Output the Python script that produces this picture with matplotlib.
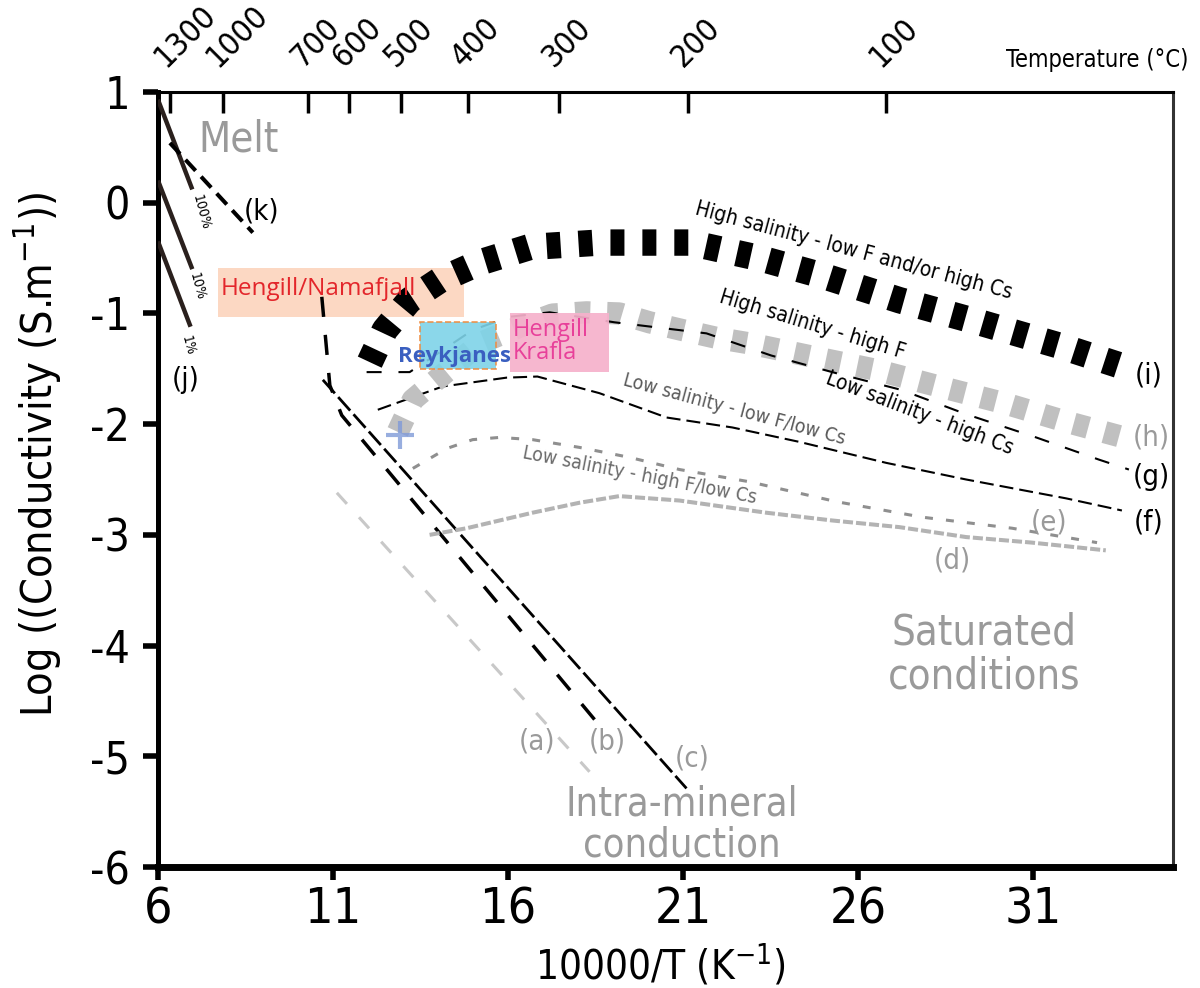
import matplotlib
matplotlib.use('Agg')
from matplotlib import pyplot as plt
from matplotlib.patches import Rectangle

plt.rcParams['font.family'] = ['DejaVu Sans']
plt.rcParams['font.stretch'] = 'condensed'
plt.rcParams['axes.unicode_minus'] = False

# x = 10000/T (K^-1), y = log conductivity (S/m)
melt_100_x = [6.0, 6.98]
melt_100_y = [0.93, 0.12]
melt_10_x = [6.0, 6.98]
melt_10_y = [0.20, -0.60]
melt_1_x = [6.0, 6.93]
melt_1_y = [-0.35, -1.12]
k_x = [6.34, 8.71]
k_y = [0.54, -0.27]

a_x = [11.11, 18.33]
a_y = [-2.62, -5.14]
b_x = [10.68, 10.91, 11.25, 18.53]
b_y = [-0.85, -1.65, -1.92, -4.69]
c_x = [10.71, 21.10]
c_y = [-1.60, -5.29]

d_x = [13.76, 14.82, 16.70, 18.04, 19.18, 20.90, 23.38, 25.26, 27.18, 29.09, 30.97, 33.08]
d_y = [-3.00, -2.94, -2.80, -2.71, -2.65, -2.69, -2.80, -2.87, -2.93, -3.02, -3.07, -3.14]
e_x = [13.28, 14.25, 14.99, 15.76, 16.70, 18.04, 19.47, 20.90, 22.89, 25.38, 27.83, 30.40, 32.83]
e_y = [-2.40, -2.22, -2.14, -2.12, -2.14, -2.21, -2.30, -2.41, -2.52, -2.70, -2.84, -2.94, -3.07]
f_x = [12.28, 14.13, 15.96, 16.84, 18.61, 20.53, 22.41, 24.32, 26.81, 29.09, 31.94, 33.54]
f_y = [-1.87, -1.66, -1.58, -1.57, -1.72, -1.94, -2.03, -2.16, -2.35, -2.50, -2.67, -2.78]
g_x = [11.96, 13.19, 14.05, 14.99, 16.05, 17.19, 19.04, 21.67, 23.52, 25.38, 27.23, 29.09, 31.09, 32.88, 33.74]
g_y = [-1.53, -1.53, -1.35, -1.15, -1.03, -0.99, -1.08, -1.18, -1.38, -1.54, -1.69, -1.91, -2.12, -2.32, -2.41]
h_x = [12.85, 13.28, 13.96, 14.53, 15.19, 16.33, 17.27, 18.24, 19.18, 20.04, 20.98, 21.95, 22.89, 24.69,
       26.52, 28.32, 30.17, 31.97, 33.60]
h_y = [-2.07, -1.78, -1.60, -1.45, -1.27, -1.12, -1.01, -0.99, -1.00, -1.08, -1.15, -1.22, -1.27, -1.39,
       -1.51, -1.66, -1.81, -1.98, -2.12]
i_x = [12.05, 12.48, 13.19, 14.05, 15.19, 16.62, 18.61, 21.18, 23.18, 24.89, 27.18, 29.46, 31.74, 33.68]
i_y = [-1.44, -1.15, -0.88, -0.70, -0.54, -0.40, -0.36, -0.36, -0.50, -0.65, -0.88, -1.08, -1.29, -1.49]

# field data ranges: x0, x1, y0, y1
hengill_namafjall = [7.71, 14.73, -1.03, -0.59]
reykjanes = [13.48, 15.67, -1.50, -1.08]
hengill_krafla = [16.05, 18.90, -1.53, -1.00]
reykjanes_point = [12.91, -2.10]

temps_c = [1300, 1000, 700, 600, 500, 400, 300, 200, 100]
x_ticks = [6, 11, 16, 21, 26, 31]
y_ticks = [1, 0, -1, -2, -3, -4, -5, -6]

GREY = '#9a9a9a'

fig = plt.figure(figsize=(12, 9.88), dpi=100)
ax = fig.add_axes([158 / 1200, 121 / 988, 1015 / 1200, 775 / 988])
ax.set_xlim(6, 35)
ax.set_ylim(-6, 1)

# boxes
x0, x1, y0, y1 = hengill_namafjall
ax.add_patch(Rectangle((x0, y0), x1 - x0, y1 - y0, fc='#fcd8c3', ec='none', zorder=1))

# melt
for mx, my in [(melt_100_x, melt_100_y), (melt_10_x, melt_10_y), (melt_1_x, melt_1_y)]:
    ax.plot(mx, my, color='#2a201d', lw=3.2, solid_capstyle='butt', zorder=3)
ax.plot(k_x, k_y, color='black', lw=2.9, dashes=(3.7, 2.0), zorder=3)

# intra-mineral
ax.plot(a_x, a_y, color='#c8c8c8', lw=2.2, dashes=(4.9, 5.9), zorder=3)
ax.plot(b_x, b_y, color='black', lw=2.5, dashes=(5.8, 5.2), zorder=3)
ax.plot(c_x, c_y, color='black', lw=2.0, dashes=(6.5, 1.8), zorder=3)

# saturated
ax.plot(d_x, d_y, color='#b3b3b3', lw=2.9, dashes=(2.5, 0.75), zorder=3)
ax.plot(e_x, e_y, color='#8f8f8f', lw=2.2, dashes=(2.6, 4.3), zorder=3)
ax.plot(f_x, f_y, color='black', lw=1.5, dashes=(6.7, 2.9), zorder=3)
ax.plot(i_x, i_y, color='black', lw=19, dashes=(0.53, 0.68), zorder=3)
ax.plot(h_x, h_y, color='#c0c0c0', lw=16, dashes=(0.68, 0.76), zorder=3)
ax.plot(g_x, g_y, color='black', lw=1.5, dashes=(7.2, 8.1), zorder=4)

x0, x1, y0, y1 = reykjanes
ax.add_patch(Rectangle((x0, y0), x1 - x0, y1 - y0, fc='#7ed3e8', ec='#f08a3c', lw=1.2,
                       ls='--', alpha=0.9, zorder=5))
x0, x1, y0, y1 = hengill_krafla
ax.add_patch(Rectangle((x0, y0), x1 - x0, y1 - y0, fc='#f6b1cb', ec='none', alpha=0.92, zorder=5))
ax.plot(reykjanes_point[0], reykjanes_point[1], marker='+', ms=20, mew=3, color='#7f9ad8',
        alpha=0.8, zorder=6)

# field labels
box_font = ['Open Sans', 'DejaVu Sans']
ax.text(7.8, -0.78, 'Hengill/Namafjall', color='#e3262b', fontsize=17.5, family=box_font,
        stretch='normal', va='center', ha='left', zorder=7)
ax.text(14.48, -1.39, 'Reykjanes', color='#3a5fc0', fontsize=16, family=box_font,
        stretch='normal', weight='bold', va='center', ha='center', zorder=7)
ax.text(16.13, -1.25, 'Hengill\nKrafla', color='#e8409a', fontsize=17, family=box_font,
        stretch='normal', va='center', ha='left', linespacing=0.95, zorder=7)

# curve annotations
ax.text(25.89, -0.43, 'High salinity - low F and/or high Cs', rotation=-15, fontsize=15,
        ha='center', va='center', zorder=7)
ax.text(24.69, -1.10, 'High salinity - high F', rotation=-17, fontsize=15,
        ha='center', va='center', zorder=7)
ax.text(27.77, -1.90, 'Low salinity - high Cs', rotation=-21, fontsize=15,
        ha='center', va='center', zorder=7)
ax.text(22.47, -1.87, 'Low salinity - low F/low Cs', rotation=-15, fontsize=14, color='#5a5a5a',
        ha='center', va='center', zorder=7)
ax.text(19.76, -2.46, 'Low salinity - high F/low Cs', rotation=-11, fontsize=14, color='#6a6a6a',
        ha='center', va='center', zorder=7)

ax.text(7.23, -0.09, '100%', rotation=-75, fontsize=10, ha='center', va='center')
ax.text(7.11, -0.76, '10%', rotation=-75, fontsize=10, ha='center', va='center')
ax.text(6.86, -1.29, '1%', rotation=-75, fontsize=10, ha='center', va='center')

lab_size = 21
for lx, ly, s, col in [(6.8, -1.6, '(j)', 'black'), (8.97, -0.08, '(k)', 'black'),
                       (16.82, -4.87, '(a)', GREY), (18.84, -4.87, '(b)', GREY),
                       (21.27, -5.02, '(c)', GREY), (28.69, -3.23, '(d)', GREY),
                       (31.46, -2.89, '(e)', GREY), (34.31, -2.89, '(f)', 'black'),
                       (34.37, -2.48, '(g)', 'black'), (34.37, -2.12, '(h)', GREY),
                       (34.31, -1.56, '(i)', 'black')]:
    ax.text(lx, ly, s, color=col, fontsize=lab_size, ha='center', va='center', zorder=7)

ax.text(8.31, 0.57, 'Melt', color=GREY, fontsize=30, ha='center', va='center')
ax.text(29.6, -4.08, 'Saturated\nconditions', color=GREY, fontsize=30, ha='center', va='center',
        linespacing=1.05)
ax.text(20.98, -5.62, 'Intra-mineral\nconduction', color=GREY, fontsize=28.5, ha='center',
        va='center', linespacing=1.05)

# axes styling
ax.set_xticks(x_ticks)
ax.set_yticks(y_ticks)
ax.tick_params(axis='x', labelsize=36, length=9, width=4, direction='out', pad=4)
ax.tick_params(axis='y', labelsize=32, length=11, width=4, direction='out', pad=9)
ax.spines['bottom'].set_linewidth(5)
ax.spines['left'].set_linewidth(3.6)
ax.spines['top'].set_linewidth(2.2)
ax.spines['right'].set_linewidth(2.2)
ax.spines['right'].set_color('#333333')

ax.set_xlabel('10000/T (K$^{-1}$)', fontsize=29)
ax.xaxis.set_label_coords(0.495, -0.098)
ax.set_ylabel('Log ((Conductivity (S.m$^{-1}$))', fontsize=31)
ax.yaxis.set_label_coords(-0.093, 0.532)

# temperature axis on top
top = ax.twiny()
top.set_xlim(ax.get_xlim())
top.set_xticks([10000 / (t + 273.15) for t in temps_c])
top.set_xticklabels([str(t) for t in temps_c], rotation=45, ha='left', va='bottom',
                    rotation_mode='anchor', fontsize=23)
top.tick_params(axis='x', direction='in', length=15, width=2.5, pad=14)
for sp in top.spines.values():
    sp.set_visible(False)

fig.text(1189 / 1200, 1 - 60 / 988, 'Temperature (\u00b0C)', fontsize=17, ha='right', va='center')

plt.savefig('out.png', dpi=100)
plt.close()
